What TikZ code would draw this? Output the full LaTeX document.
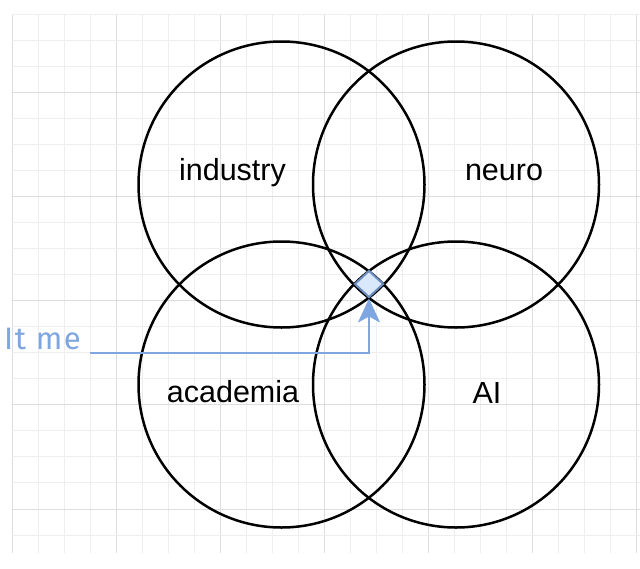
\documentclass[tikz,border=0pt]{standalone}
\usepackage{fontspec}
\setmainfont{Liberation Sans}
\newfontfamily\handfont[LetterSpace=5]{Fira Sans}
\usetikzlibrary{shapes.geometric,arrows.meta}
\definecolor{gridminor}{HTML}{EEEEEE}
\definecolor{gridmajor}{HTML}{DDDDDD}
\definecolor{itblue}{HTML}{7EA6E0}
\definecolor{diafill}{HTML}{DAE8FC}
\definecolor{diadraw}{HTML}{6C8EBF}
\tikzset{
  venn/.style={draw=black, line width=2.5pt},
  vlabel/.style={anchor=base, inner sep=0pt, font=\fontsize{30.5}{36}\selectfont},
  pointer/.style={draw=itblue, line width=2pt, -{Stealth[length=24pt,width=22pt,inset=6pt]}},
  marker/.style={shape=diamond, draw=diadraw, fill=diafill, line width=2pt, inner sep=0pt, minimum width=29pt, minimum height=27pt},
  itlabel/.style={anchor=base east, inner sep=0pt, text=itblue, font=\handfont\fontsize{31}{36}\selectfont}
}
\begin{document}
\begin{tikzpicture}[x=1pt,y=-1pt]
\useasboundingbox (0,0) rectangle (640,568);
\fill[white] (0,0) rectangle (640,568);
% grid
\foreach \k in {0,...,24} {
  \pgfmathtruncatemacro{\m}{mod(\k,4)}
  \ifnum\m=0
    \draw[gridmajor, line width=0.9pt] ({12+26*\k},14) -- ({12+26*\k},553);
  \else
    \draw[gridminor, line width=0.9pt] ({12+26*\k},14) -- ({12+26*\k},553);
  \fi
}
\foreach \k in {0,...,20} {
  \pgfmathtruncatemacro{\m}{mod(\k,4)}
  \ifnum\m=3
    \draw[gridmajor, line width=0.9pt] (12,{14+26.05*\k}) -- (640,{14+26.05*\k});
  \else
    \draw[gridminor, line width=0.9pt] (12,{14+26.05*\k}) -- (640,{14+26.05*\k});
  \fi
}
% circles
\node[venn, circle, minimum size=286pt, inner sep=0pt] (ind) at (281.5,184.5) {};
\node[venn, circle, minimum size=286pt, inner sep=0pt] (neu) at (456,184.5) {};
\node[venn, circle, minimum size=286pt, inner sep=0pt] (aca) at (281.5,384.5) {};
\node[venn, circle, minimum size=286pt, inner sep=0pt] (ai) at (456,384.5) {};
% labels
\node[vlabel] (lind) at (232.5,180) {industry};
\node[vlabel] (lneu) at (504,180) {neuro};
\node[vlabel] (laca) at (233,402.7) {academia};
\node[vlabel] (lai) at (487,403.3) {AI};
% marker
\node[marker] (me) at (369,284) {};
\node[itlabel] (it) at (81,349) {It me};
\coordinate (start) at (90,352.7);
\draw[pointer] (start) -| (me.south);
\end{tikzpicture}
\end{document}
